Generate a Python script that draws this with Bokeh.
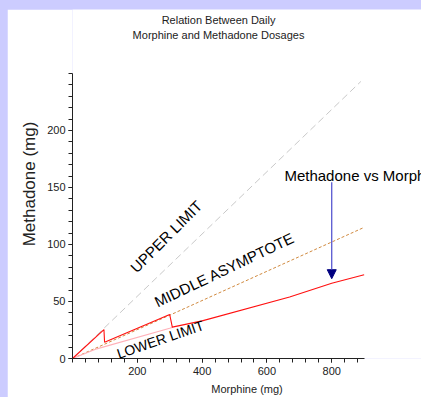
from bokeh.plotting import figure
from bokeh.models import Label, FixedTicker, Arrow, NormalHead
from bokeh.layouts import column
from bokeh.embed import file_html
from bokeh.resources import INLINE
import math

# ---- data ----
upper_x = [0, 890]
upper_y = [0, 243]
middle_x = [0, 300, 900]
middle_y = [0, 38, 115]
lower_x = [0, 75, 300, 310]
lower_y = [0, 8.5, 26.5, 27.5]
red_x = [0, 97, 99, 300, 308, 400, 670, 800, 900]
red_y = [0, 25.4, 14.3, 38.5, 27.5, 33, 54, 66, 73.4]
x_major = [200, 400, 600, 800]
x_minor = list(range(0, 901, 40))
y_major = [0, 50, 100, 150, 200]
y_minor = list(range(0, 251, 10))
title_lines = ["Relation Between Daily", "Morphine and Methadone Dosages"]
arrow_x = 800
arrow_y = [154.6, 70]

FONT = "Liberation Sans"

p = figure(width=414, height=388, x_range=(0, 1077), y_range=(0, 306.1),
           output_backend="svg", toolbar_location=None,
           min_border_left=65, min_border_right=0, min_border_top=0, min_border_bottom=39)
p.margin = (9, 0, 0, 7)
p.background_fill_color = "white"
p.border_fill_color = "white"
p.outline_line_color = None
p.xgrid.visible = False
p.ygrid.visible = False

for ax in (p.xaxis[0], p.yaxis[0]):
    ax.axis_line_color = "#222222"
    ax.major_tick_line_color = "#222222"
    ax.minor_tick_line_color = "#222222"
    ax.major_tick_in = 0
    ax.minor_tick_in = 0
    ax.major_tick_out = 4
    ax.minor_tick_out = 4
    ax.major_label_text_font = FONT
    ax.major_label_text_font_size = "11px"
    ax.major_label_text_color = "#222222"
    ax.axis_label_text_font = FONT
    ax.axis_label_text_font_style = "normal"
    ax.axis_label_text_color = "#222222"

p.xaxis.bounds = (0, 900)
p.yaxis.bounds = (0, 250)
p.xaxis.ticker = FixedTicker(ticks=x_major, minor_ticks=x_minor)
p.yaxis.ticker = FixedTicker(ticks=y_major, minor_ticks=y_minor)
p.xaxis.axis_label = "Morphine (mg)"
p.xaxis.axis_label_text_font_size = "11px"
p.xaxis.major_label_standoff = 4
p.xaxis.axis_label_standoff = 5
p.yaxis.axis_label = "Methadone (mg)"
p.yaxis.axis_label_text_font_size = "17px"
p.yaxis.major_label_standoff = 3
p.yaxis.axis_label_standoff = 5

p.line(upper_x, upper_y, line_color="#c8c8c8", line_width=1, line_dash="7 4")
p.line(middle_x, middle_y, line_color="#d08a40", line_width=1, line_dash="3 2")
p.line(lower_x, lower_y, line_color="#ffb0b8", line_width=1.2)
p.line(red_x, red_y, line_color="#ff1010", line_width=1.1)

p.add_layout(Arrow(end=NormalHead(size=9, fill_color="#000080", line_color="#000080"),
                   x_start=arrow_x, y_start=arrow_y[0], x_end=arrow_x, y_end=arrow_y[1],
                   line_color="#4a4acc", line_width=1.2))

def lab(x, y, text, size, angle_deg=0, align="center", baseline="middle", color="black"):
    p.add_layout(Label(x=x, y=y, text=text, angle=math.radians(angle_deg),
                       text_font=FONT, text_font_size=size, text_color=color,
                       text_align=align, text_baseline=baseline))

lab(289, 107, "UPPER LIMIT", "15px", 45)
lab(469, 78, "MIDDLE ASYMPTOTE", "15px", 25.6)
lab(271, 16.7, "LOWER LIMIT", "14px", 19)
lab(654, 160.5, "Methadone vs Morphine", "15px", 0, align="left", baseline="alphabetic")
lab(450.6, 296.5, title_lines[0], "11px", 0, baseline="alphabetic", color="#222222")
lab(450.6, 283.3, title_lines[1], "11px", 0, baseline="alphabetic", color="#222222")

layout = column(p, styles={"background-color": "#ccccff"})

open("out.html", "w").write(file_html(layout, INLINE))
